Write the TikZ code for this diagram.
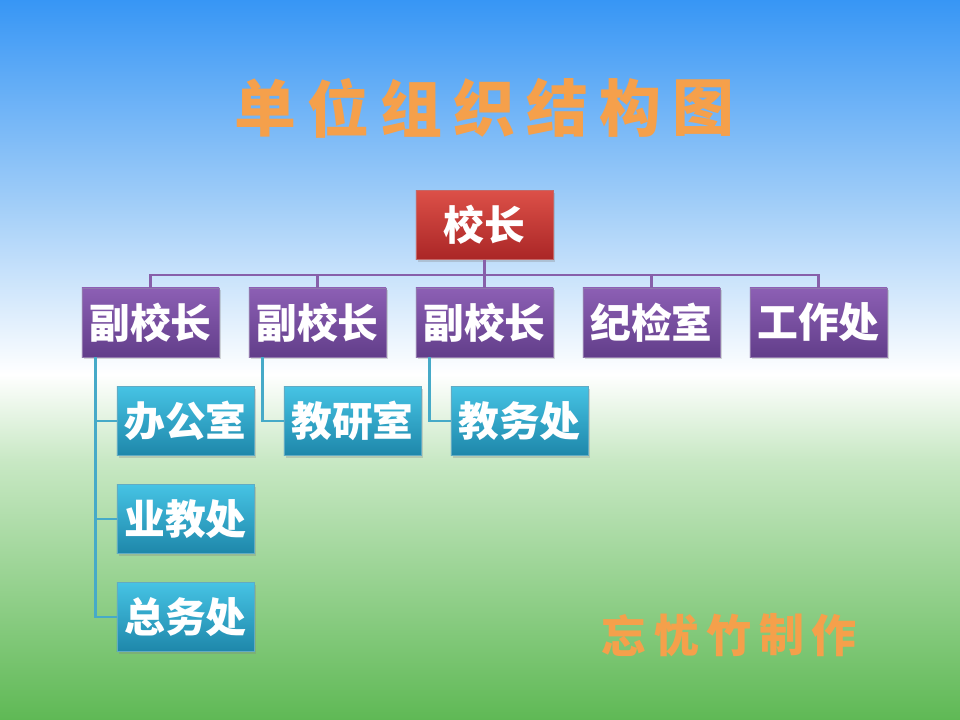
\documentclass[tikz,border=0pt]{standalone}
\usepackage{fontspec}
\usepackage{xcolor}
\newfontfamily\cjk{Noto Sans CJK SC}
\usetikzlibrary{positioning, shadows}

\definecolor{skyblue}{RGB}{55,150,245}
\definecolor{paleblue}{RGB}{160,205,248}
\definecolor{grassgreen}{RGB}{95,185,85}
\definecolor{palegreen}{RGB}{200,232,196}
\definecolor{titleorange}{RGB}{245,160,75}
\definecolor{headtop}{RGB}{220,80,72}
\definecolor{headbot}{RGB}{170,38,38}
\definecolor{deputytop}{RGB}{140,95,180}
\definecolor{deputybot}{RGB}{98,62,138}
\definecolor{officetop}{RGB}{70,195,228}
\definecolor{officebot}{RGB}{30,135,170}
\definecolor{busline}{RGB}{135,95,170}
\definecolor{branchline}{RGB}{70,170,200}

\pgfdeclareverticalshading{sky}{100bp}{color(0bp)=(grassgreen); color(25bp)=(grassgreen); color(43bp)=(palegreen); color(49bp)=(white); color(61bp)=(paleblue); color(75bp)=(skyblue); color(100bp)=(skyblue)}

\begin{document}
\begin{tikzpicture}[x=0.025cm, y=-0.025cm,
    box/.style={minimum width=3.425cm, minimum height=1.725cm, inner sep=0pt,
        line width=0.6pt, text=white,
        font=\cjk\bfseries\fontsize{29}{29}\selectfont,
        drop shadow={opacity=0.3, shadow xshift=1.5pt, shadow yshift=-1.5pt}},
    headbox/.style={box, top color=headtop, bottom color=headbot, draw=headbot!70!white},
    deputybox/.style={box, top color=deputytop, bottom color=deputybot, draw=deputybot!70!white},
    officebox/.style={box, top color=officetop, bottom color=officebot, draw=officebot!70!white},
    bus/.style={busline, line width=1.8pt},
    branch/.style={branchline, line width=1.6pt},
    titlechar/.style={font=\cjk\bfseries\fontsize{44}{44}\selectfont, text=titleorange},
    signchar/.style={font=\cjk\bfseries\fontsize{32}{32}\selectfont, text=titleorange}]
    \shade[shading=sky] (0,0) rectangle (960,720);
    \useasboundingbox (0,0) rectangle (960,720);

    \foreach \c [count=\i from 0] in {单,位,组,织,结,构,图} {
        \node[titlechar] (t\i) at (265+73*\i, 108) {\c};
    }

    \node[headbox] (xz) at (484.5,225) {校长};
    \node[deputybox] (fx1) at (150.5,322.5) {副校长};
    \node[deputybox] (fx2) at (317.5,322.5) {副校长};
    \node[deputybox] (fx3) at (484.5,322.5) {副校长};
    \node[deputybox] (jjs) at (651.5,322.5) {纪检室};
    \node[deputybox] (gzc) at (818.5,322.5) {工作处};

    \node[officebox] (bgs) at (185.5,421) {办公室};
    \node[officebox] (yjc) at (185.5,519) {业教处};
    \node[officebox] (zwc) at (185.5,617) {总务处};
    \node[officebox] (jys) at (352.5,421) {教研室};
    \node[officebox] (jwc) at (519.5,421) {教务处};

    \foreach \n in {fx1,fx2,fx3,jjs,gzc} {
        \draw[bus] (xz.south) -- ++(0,15) -| (\n.north);
    }
    \foreach \n in {bgs,yjc,zwc} {
        \draw[branch] ([xshift=0.35cm]fx1.south west) |- (\n.west);
    }
    \draw[branch] ([xshift=0.35cm]fx2.south west) |- (jys.west);
    \draw[branch] ([xshift=0.35cm]fx3.south west) |- (jwc.west);

    \foreach \c [count=\i from 0] in {忘,忧,竹,制,作} {
        \node[signchar] (s\i) at (624+52.5*\i, 635) {\c};
    }
\end{tikzpicture}
\end{document}
